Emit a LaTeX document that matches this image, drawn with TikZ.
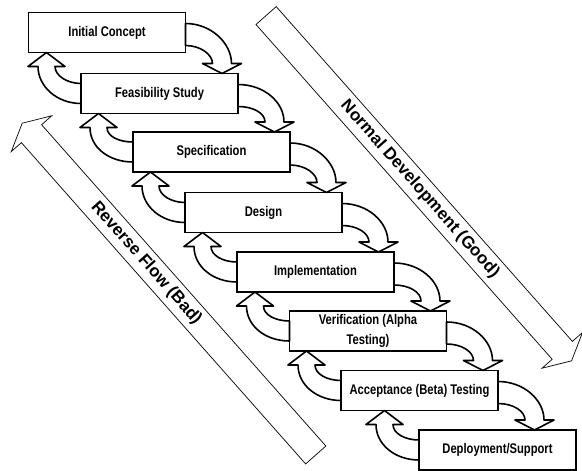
\documentclass[tikz,border=0pt]{standalone}
\usepackage{fontspec}
\newfontfamily\stagefont{Liberation Sans}[FakeStretch=0.8]
\newfontfamily\flowfont{Liberation Sans}
\usetikzlibrary{calc}
\tikzset{
	stage/.style={draw, line width=1.6pt, outer sep=0pt, fill=white, minimum width=157pt, minimum height=40pt, inner sep=2pt, align=center, font={\stagefont\bfseries\fontsize{14}{20}\selectfont}}
}
\tikzset{
	flowarrow/.style={draw, line width=1.6pt, fill=white, line join=round}
}
\tikzset{
	bigarrow/.style={draw, line width=0.7pt},
	dirlabel/.style={font={\flowfont\bfseries\fontsize{17}{20}\selectfont}}
}

\begin{document}
\begin{tikzpicture}[x=1pt, y=1pt]
      \useasboundingbox (0,0) rectangle (582,-471);
      \begin{scope}[rotate=-48.5]
        \draw[bigarrow] (188,175.5) -- (635,175.5) -- (635,162) -- (649,189) -- (635,216) -- (635,202.5) -- (188,202.5) -- cycle;
        \draw[bigarrow] (550,-78.5) -- (121,-78.5) -- (121,-92) -- (107,-65) -- (121,-38) -- (121,-51.5) -- (550,-51.5) -- cycle;
        \node[dirlabel, rotate=-48.5] (good) at (420,189) {Normal Development (Good)};
        \node[dirlabel, rotate=-48.5] (bad) at (294,-65) {Reverse Flow (Bad)};
      \end{scope}
      \foreach \x/\y/\name/\txt in {107/32.5/s1/Initial Concept, 159.5/93.5/s2/Feasibility Study, 211.5/152/s3/Specification, 263.5/212.5/s4/Design, 315.5/272/s5/Implementation, 368/331/s6/Verification (Alpha\\Testing), 419.5/390.5/s7/Acceptance (Beta) Testing, 497.5/450/s8/{Deployment/Support}} {
        \node[stage] (\name) at (\x,-\y) {\txt};
      }
      \foreach \a/\b in {s1/s2, s2/s3, s3/s4, s4/s5, s5/s6, s6/s7, s7/s8} {
        \draw[flowarrow] ($(\a.north east)+(0,-11)$) .. controls +(26,0) and +(0,20) .. ($(\a.north east |- \b.north)+(46,10)$)
          -- ++(10,0) -- ($(\a.north east |- \b.north)+(36.5,0)$) -- ($(\a.north east |- \b.north)+(17,10)$) -- ++(10,0)
          .. controls +(0,9) and +(15,0) .. ($(\a.south east)+(0,7)$) -- cycle;
      }
      \foreach \a/\b in {s2/s1, s3/s2, s4/s3, s5/s4, s6/s5, s7/s6, s8/s7} {
        \draw[flowarrow] ($(\a.south west)+(0,10)$) .. controls +(-24,0) and +(0,-20) .. ($(\a.south west |- \b.south)+(-43,-14)$)
          -- ++(-10,0) -- ($(\a.south west |- \b.south)+(-34.5,0)$) -- ($(\a.south west |- \b.south)+(-16,-14)$) -- ++(-10,0)
          .. controls +(0,-9) and +(-14,0) .. ($(\a.north west)+(0,-10)$) -- cycle;
      }
    \end{tikzpicture}
\end{document}
